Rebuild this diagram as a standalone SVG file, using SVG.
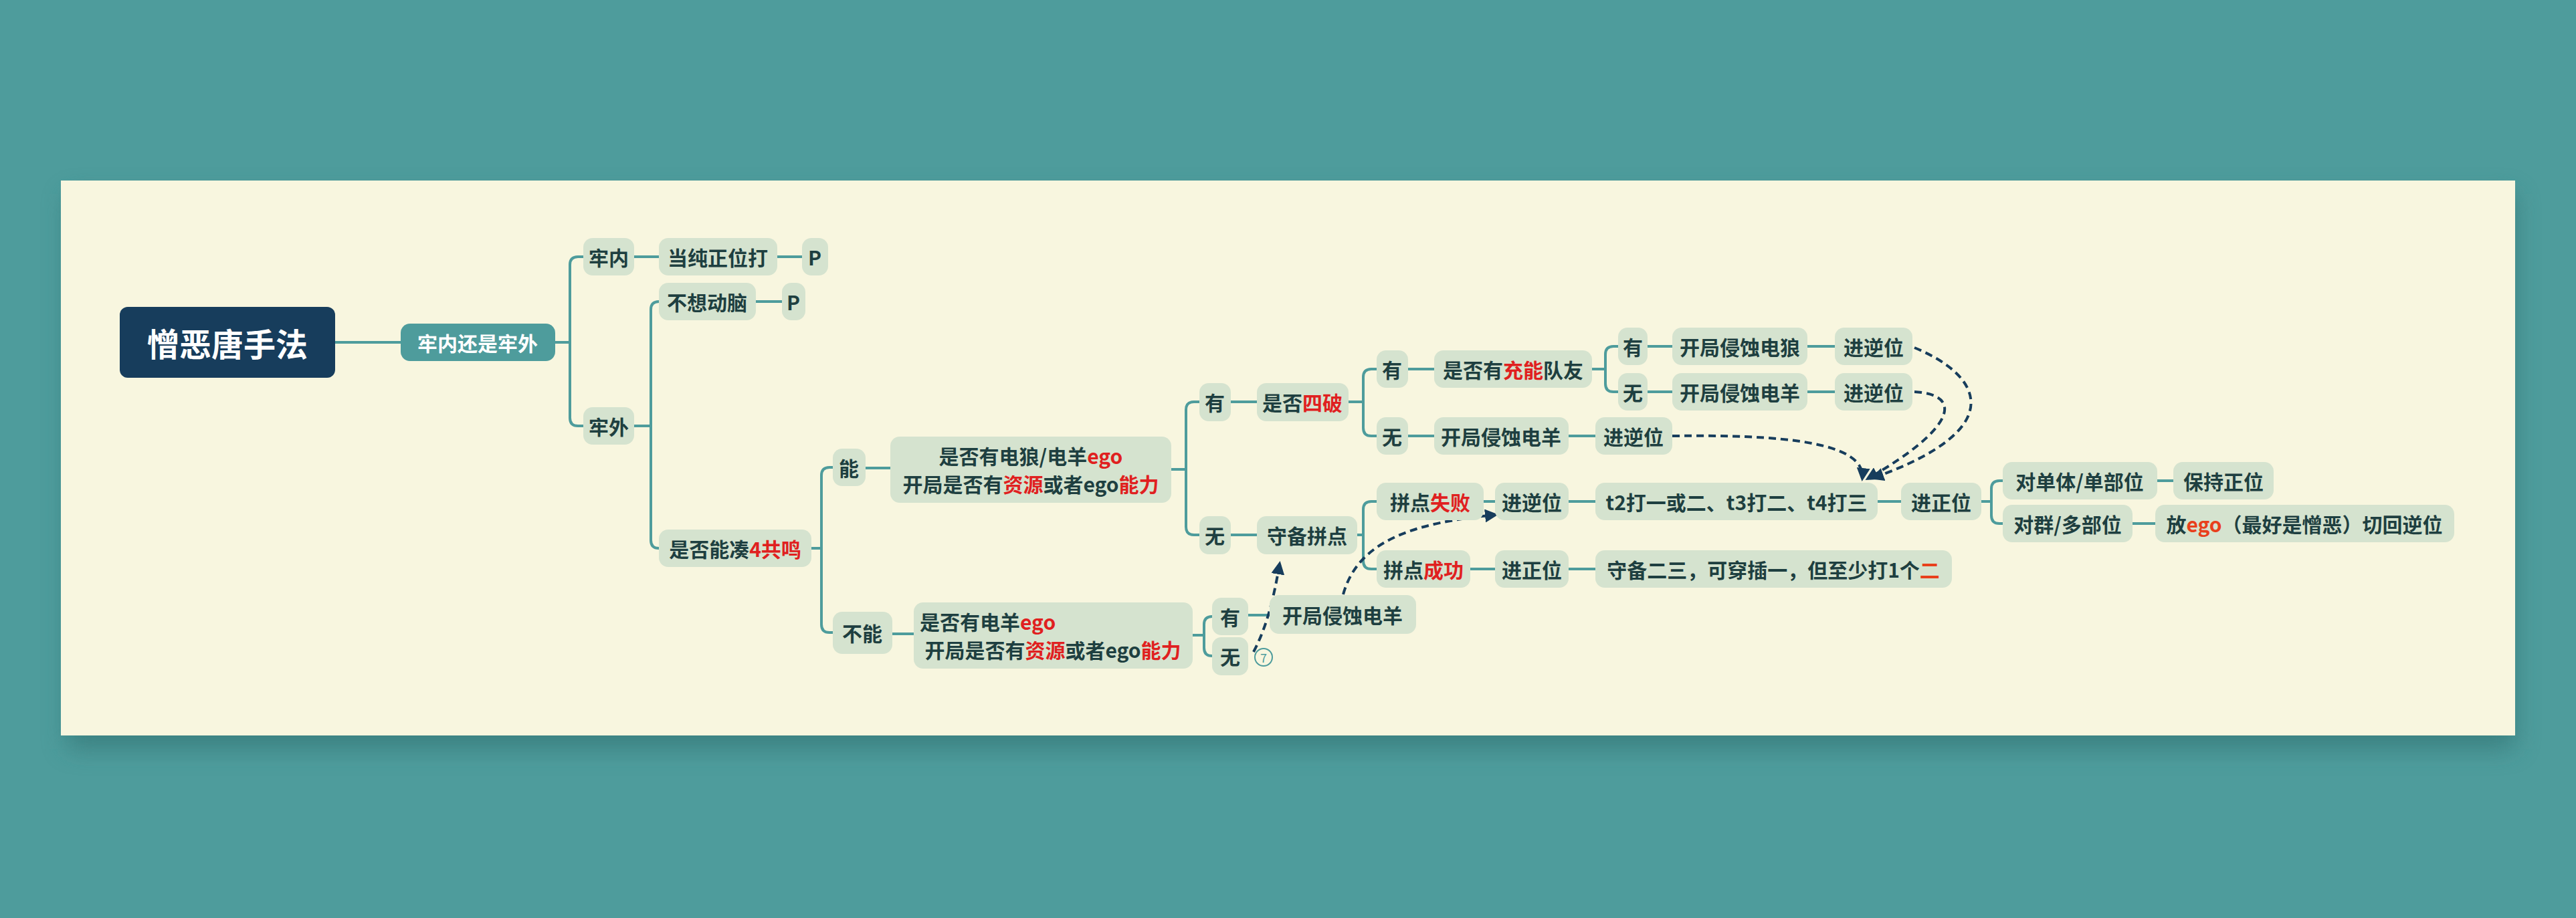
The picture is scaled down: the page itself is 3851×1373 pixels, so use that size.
<svg xmlns="http://www.w3.org/2000/svg" width="3851" height="1373" viewBox="0 0 3851 1373">
<defs>
<filter id="sh" x="-5%" y="-20%" width="110%" height="140%"><feGaussianBlur stdDeviation="18"/></filter>
<marker id="ah" viewBox="0 0 10 10" refX="8" refY="5" markerWidth="5" markerHeight="5" orient="auto"><path d="M0,0L10,5L0,10z" fill="#173d5c"/></marker>
<style>
.n rect{fill:#d5e3cf}
.n text,.t{font-family:"Noto Sans CJK SC","Noto Sans",sans-serif;font-weight:bold;font-size:30px;fill:#1e3f40;text-anchor:middle;dominant-baseline:central}
.r{fill:#e02020}
.o{fill:#e8401c}
.c path{fill:none;stroke:#4e9c9c;stroke-width:4}
.d path{fill:none;stroke:#173d5c;stroke-width:4;stroke-dasharray:11 7;marker-end:url(#ah)}
</style>
</defs>
<rect width="3851" height="1373" fill="#4e9c9c"/>
<rect x="100" y="290" width="3660" height="830" fill="#2f6f70" opacity="0.6" filter="url(#sh)"/>
<rect x="91" y="270" width="3669" height="830" fill="#f8f6df"/>
<g class="c">
<path d="M501,512H599"/>
<path d="M830,512H852V396Q852,384 864,384H872"/>
<path d="M830,512H852V625Q852,637 864,637H872"/>
<path d="M948,384H985"/><path d="M1162,384H1199"/>
<path d="M1130,451H1169"/>
<path d="M948,637H973V463Q973,451 985,451"/>
<path d="M948,637H973V808Q973,820 985,820"/>
<path d="M1213,820H1228V711Q1228,699 1240,699H1245"/>
<path d="M1228,820V934Q1228,946 1240,946H1245"/>
<path d="M1294,700H1331"/><path d="M1334,948H1366"/>
<path d="M1751,702H1773V613Q1773,601 1785,601H1793"/>
<path d="M1773,702V788Q1773,800 1785,800H1793"/>
<path d="M1783,950H1800V934Q1800,922 1812,922"/>
<path d="M1800,950V969Q1800,981 1812,981"/>
<path d="M1866,920H1898"/>
<path d="M1840,601H1879"/><path d="M1840,800H1879"/>
<path d="M2016,601H2038V564Q2038,552 2050,552H2058"/>
<path d="M2038,601V640Q2038,652 2050,652H2058"/>
<path d="M2105,552H2144"/><path d="M2105,652H2144"/><path d="M2345,652H2385"/>
<path d="M2380,552H2400V530Q2400,518 2412,518H2419"/>
<path d="M2400,552V574Q2400,586 2412,586H2419"/>
<path d="M2463,518H2500"/><path d="M2702,518H2743"/>
<path d="M2463,586H2500"/><path d="M2702,586H2743"/>
<path d="M2029,800H2038V762Q2038,750 2050,750H2058"/>
<path d="M2038,800V839Q2038,851 2050,851H2058"/>
<path d="M2218,750H2235"/><path d="M2345,750H2385"/><path d="M2807,750H2842"/>
<path d="M2198,851H2235"/><path d="M2345,851H2385"/>
<path d="M2962,750H2977V731Q2977,719 2989,719H2994"/>
<path d="M2977,750V771Q2977,783 2989,783H2994"/>
<path d="M3225,719H3249"/><path d="M3188,783H3222"/>
</g>
<g class="d">
<path d="M2862,520C2960,560 3010,640 2800,715"/>
<path d="M2862,586C2935,590 2925,640 2792,716"/>
<path d="M2500,652C2660,650 2790,660 2784,716"/>
<path d="M2008,889C2030,810 2110,782 2236,770"/>
<path d="M1874,975C1895,935 1905,890 1913,843"/>
</g>
<g id="root"><rect x="179" y="459" width="322" height="106" rx="12" fill="#173d5c"/><text class="t" x="340" y="512" style="fill:#fff;font-size:48px">憎恶唐手法</text></g>
<g id="q1"><rect x="599" y="484" width="231" height="56" rx="14" fill="#4e9c9c"/><text class="t" x="714" y="512" style="fill:#fff">牢内还是牢外</text></g>
<g class="n" id="n1"><rect x="872" y="356" width="76" height="56" rx="14"/><text x="910" y="384">牢内</text></g>
<g class="n" id="n2"><rect x="985" y="356" width="177" height="56" rx="14"/><text x="1073" y="384">当纯正位打</text></g>
<g class="n" id="n3"><rect x="1199" y="356" width="39" height="56" rx="14"/><text x="1218" y="384">P</text></g>
<g class="n" id="n4"><rect x="985" y="423" width="145" height="56" rx="14"/><text x="1057" y="451">不想动脑</text></g>
<g class="n" id="n5"><rect x="1169" y="423" width="35" height="56" rx="14"/><text x="1186" y="451">P</text></g>
<g class="n" id="n6"><rect x="872" y="609" width="76" height="56" rx="14"/><text x="910" y="637">牢外</text></g>
<g class="n" id="n7"><rect x="985" y="792" width="228" height="56" rx="14"/><text x="1099" y="820">是否能凑<tspan class="r">4共鸣</tspan></text></g>
<g class="n" id="n8"><rect x="1245" y="671" width="49" height="56" rx="14"/><text x="1269" y="699">能</text></g>
<g class="n" id="n9"><rect x="1331" y="653" width="420" height="99" rx="14"/><text x="1541" y="681">是否有电狼/电羊<tspan class="r">ego</tspan></text><text x="1541" y="723">开局是否有<tspan class="r">资源</tspan>或者ego<tspan class="r">能力</tspan></text></g>
<g class="n" id="n10"><rect x="1245" y="915" width="89" height="63" rx="14"/><text x="1289" y="946">不能</text></g>
<g class="n" id="n11"><rect x="1366" y="901" width="417" height="99" rx="14"/><text x="1541" y="929" text-anchor="start" style="text-anchor:start" dx="-166">是否有电羊<tspan class="r">ego</tspan></text><text x="1574" y="971">开局是否有<tspan class="r">资源</tspan>或者ego<tspan class="r">能力</tspan></text></g>
<g class="n" id="n12"><rect x="1812" y="894" width="54" height="56" rx="14"/><text x="1839" y="922">有</text></g>
<g class="n" id="n13"><rect x="1812" y="953" width="54" height="57" rx="14"/><text x="1839" y="981">无</text></g>
<circle cx="1889" cy="983" r="13" fill="none" stroke="#4e9c9c" stroke-width="2"/><text class="t" x="1889" y="983" style="font-size:18px;font-weight:normal;fill:#4e9c9c">7</text>
<g class="n" id="n14"><rect x="1898" y="890" width="219" height="58" rx="14"/><text x="2007" y="919">开局侵蚀电羊</text></g>
<g class="n" id="n15"><rect x="1793" y="573" width="47" height="57" rx="14"/><text x="1816" y="601">有</text></g>
<g class="n" id="n16"><rect x="1879" y="573" width="137" height="57" rx="14"/><text x="1947" y="601">是否<tspan class="r">四破</tspan></text></g>
<g class="n" id="n17"><rect x="1793" y="772" width="47" height="57" rx="14"/><text x="1816" y="800">无</text></g>
<g class="n" id="n18"><rect x="1879" y="772" width="150" height="57" rx="14"/><text x="1954" y="800">守备拼点</text></g>
<g class="n" id="n19"><rect x="2058" y="524" width="47" height="56" rx="14"/><text x="2081" y="552">有</text></g>
<g class="n" id="n20"><rect x="2144" y="524" width="236" height="56" rx="14"/><text x="2262" y="552">是否有<tspan class="r">充能</tspan>队友</text></g>
<g class="n" id="n21"><rect x="2419" y="490" width="44" height="56" rx="14"/><text x="2441" y="518">有</text></g>
<g class="n" id="n22"><rect x="2500" y="490" width="202" height="56" rx="14"/><text x="2601" y="518">开局侵蚀电狼</text></g>
<g class="n" id="n23"><rect x="2743" y="490" width="116" height="56" rx="14"/><text x="2801" y="518">进逆位</text></g>
<g class="n" id="n24"><rect x="2419" y="558" width="44" height="56" rx="14"/><text x="2441" y="586">无</text></g>
<g class="n" id="n25"><rect x="2500" y="558" width="202" height="56" rx="14"/><text x="2601" y="586">开局侵蚀电羊</text></g>
<g class="n" id="n26"><rect x="2743" y="558" width="116" height="56" rx="14"/><text x="2801" y="586">进逆位</text></g>
<g class="n" id="n27"><rect x="2058" y="624" width="47" height="56" rx="14"/><text x="2081" y="652">无</text></g>
<g class="n" id="n28"><rect x="2144" y="624" width="201" height="56" rx="14"/><text x="2244" y="652">开局侵蚀电羊</text></g>
<g class="n" id="n29"><rect x="2385" y="624" width="115" height="56" rx="14"/><text x="2442" y="652">进逆位</text></g>
<g class="n" id="n30"><rect x="2058" y="722" width="160" height="56" rx="14"/><text x="2138" y="750">拼点<tspan class="r">失败</tspan></text></g>
<g class="n" id="n31"><rect x="2235" y="722" width="110" height="56" rx="14"/><text x="2290" y="750">进逆位</text></g>
<g class="n" id="n32"><rect x="2385" y="722" width="422" height="56" rx="14"/><text x="2596" y="750">t2打一或二、t3打二、t4打三</text></g>
<g class="n" id="n33"><rect x="2842" y="722" width="120" height="56" rx="14"/><text x="2902" y="750">进正位</text></g>
<g class="n" id="n34"><rect x="2994" y="691" width="231" height="56" rx="14"/><text x="3109" y="719">对单体/单部位</text></g>
<g class="n" id="n35"><rect x="3249" y="691" width="150" height="56" rx="14"/><text x="3324" y="719">保持正位</text></g>
<g class="n" id="n36"><rect x="2994" y="755" width="194" height="56" rx="14"/><text x="3091" y="783">对群/多部位</text></g>
<g class="n" id="n37"><rect x="3222" y="755" width="447" height="56" rx="14"/><text x="3445" y="783">放<tspan class="o">ego</tspan>（最好是憎恶）切回逆位</text></g>
<g class="n" id="n38"><rect x="2058" y="823" width="140" height="56" rx="14"/><text x="2128" y="851">拼点<tspan class="r">成功</tspan></text></g>
<g class="n" id="n39"><rect x="2235" y="823" width="110" height="56" rx="14"/><text x="2290" y="851">进正位</text></g>
<g class="n" id="n40"><rect x="2385" y="823" width="533" height="56" rx="14"/><text x="2651" y="851">守备二三，可穿插一，但至少打1个<tspan class="o">二</tspan></text></g>
</svg>
